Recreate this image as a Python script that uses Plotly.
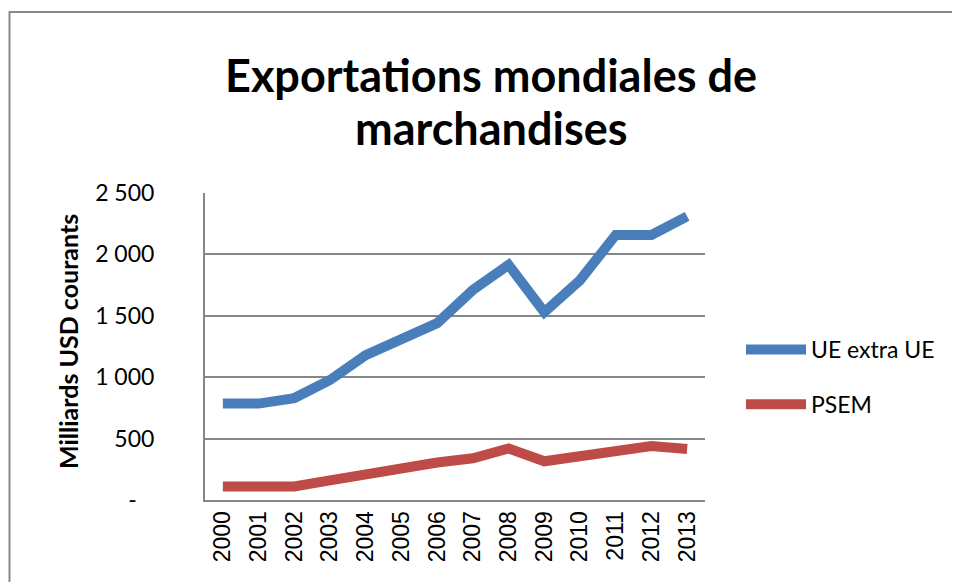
import plotly.graph_objects as go

years = [str(y) for y in range(2000, 2014)]
ue_extra_ue = [785, 785, 830, 977, 1180, 1305, 1440, 1710, 1915, 1530, 1790, 2158, 2158, 2310]
psem = [110, 110, 110, 160, 215, 265, 305, 340, 420, 315, 355, 395, 440, 415]
y_tickvals = [0, 500, 1000, 1500, 2000, 2500]
y_ticktext = ["-\u00a0\u00a0\u00a0", "500", "1 000", "1 500", "2 000", "2 500"]
title_lines = ["Exportations mondiales de", "marchandises"]

OFF = 8  # page body margin
W, H = 960, 582
L, R, T, B = 205 - OFF, 255 + OFF, 193 - OFF, 82 + OFF
pw, ph = W - L - R, H - T - B

def px(x):
    return (x - OFF - L) / pw

def py(y):
    return (H - B - (y - OFF)) / ph

fig = go.Figure()
fig.add_trace(go.Scatter(x=years, y=ue_extra_ue, mode="lines", name="UE extra UE",
                         line=dict(color="#4A7EBB", width=10), legendgroup="a"))
fig.add_trace(go.Scatter(x=years, y=psem, mode="lines", name="PSEM",
                         line=dict(color="#BE4B48", width=10), legendgroup="b"))

annotations = [dict(text="<b>Milliards USD courants</b>", textangle=-90,
                    xref="paper", yref="paper", x=px(68), y=py(342),
                    xanchor="center", yanchor="middle", showarrow=False,
                    font=dict(family="Lato", size=25, color="black"))]
for txt, yc in zip(title_lines, [75, 128]):
    annotations.append(dict(text="<b>" + txt + "</b>", xref="paper", yref="paper",
                            x=px(491), y=py(yc), xanchor="center", yanchor="middle",
                            showarrow=False,
                            font=dict(family="Lato", size=45, color="black")))

fig.update_layout(
    width=W, height=H,
    margin=dict(l=L, r=R, t=T, b=B),
    paper_bgcolor="white", plot_bgcolor="white",
    showlegend=True,
    legend=dict(x=px(741), xanchor="left", y=py(328), yanchor="top",
                font=dict(family="Lato", size=23, color="black"),
                itemwidth=60, traceorder="grouped", tracegroupgap=22,
                bgcolor="rgba(0,0,0,0)"),
    xaxis=dict(type="category", range=[-0.5, 13.5], showgrid=False,
               showline=True, linecolor="#868686", linewidth=2,
               tickangle=-90, ticks="",
               tickfont=dict(family="Liberation Sans", size=23, color="black")),
    yaxis=dict(range=[0, 2500], tickvals=y_tickvals, ticktext=y_ticktext,
               showgrid=True, gridcolor="#868686", gridwidth=1.5,
               showline=True, linecolor="#868686", linewidth=2,
               zeroline=False, ticks="", ticklabelstandoff=44,
               tickfont=dict(family="Lato", size=23, color="black")),
    annotations=annotations,
    shapes=[dict(type="rect", xref="paper", yref="paper",
                 x0=px(9.5), x1=px(1200), y0=py(800), y1=py(12),
                 line=dict(color="#888888", width=2), fillcolor="rgba(0,0,0,0)",
                 layer="below")],
)

fig.write_html("out.html")
